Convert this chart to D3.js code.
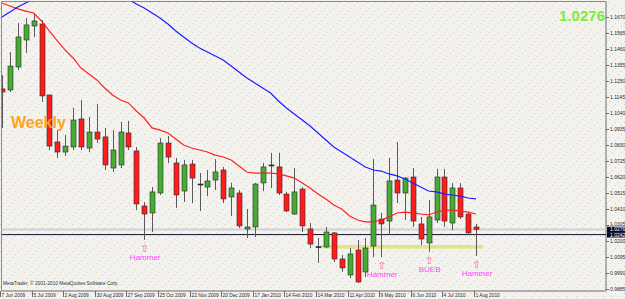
<!DOCTYPE html>
<html>
<head>
<meta charset="utf-8">
<script src="https://cdn.jsdelivr.net/npm/d3@7"></script>
<style>
  html, body { margin: 0; padding: 0; background: #f2f3ef; }
  svg { display: block; }
</style>
</head>
<body>
<script>
// weekly bars, one per sunday
const weeks = d3.timeWeek.range(new Date(2009, 5, 7), new Date(2010, 7, 2));

const open = [1.1198, 1.1191, 1.1342, 1.1519, 1.1611, 1.1624, 1.1158, 1.0850, 1.0784, 1.0817,
    1.1001, 1.0810, 1.0915, 1.0883, 1.0679, 1.0699, 1.0909, 1.0791, 1.0430, 1.0384,
    1.0515, 1.0843, 1.0712, 1.0528, 1.0705, 1.0574, 1.0554, 1.0600, 1.0666, 1.0489,
    1.0515, 1.0279, 1.0292, 1.0581, 1.0699, 1.0686, 1.0508, 1.0377, 1.0541, 1.0279,
    1.0163, 1.0161, 1.0253, 1.0082, 0.9977, 1.0141, 0.9997, 1.0167, 1.0344, 1.0331,
    1.0600, 1.0515, 1.0620, 1.0312, 1.0187, 1.0338, 1.0620, 1.0318, 1.0548, 1.0377, 1.0292];
const high = [1.1289, 1.1440, 1.1631, 1.1663, 1.1696, 1.1650, 1.1160, 1.0928, 1.0896, 1.1073,
    1.1125, 1.1014, 1.1099, 1.0942, 1.0928, 1.0981, 1.0988, 1.0817, 1.0456, 1.0554,
    1.0876, 1.0889, 1.0745, 1.0732, 1.0732, 1.0646, 1.0666, 1.0738, 1.0686, 1.0581,
    1.0535, 1.0410, 1.0581, 1.0712, 1.0778, 1.0778, 1.0522, 1.0679, 1.0554, 1.0318,
    1.0220, 1.0292, 1.0259, 1.0108, 1.0154, 1.0207, 1.0220, 1.0738, 1.0384, 1.0745,
    1.0850, 1.0620, 1.0679, 1.0358, 1.0469, 1.0673, 1.0673, 1.0581, 1.0581, 1.0390, 1.0312];
const low = [1.0942, 1.1178, 1.1322, 1.1434, 1.1539, 1.1112, 1.0797, 1.0745, 1.0758, 1.0797,
    1.0797, 1.0784, 1.0843, 1.0666, 1.0653, 1.0679, 1.0797, 1.0403, 1.0207, 1.0259,
    1.0502, 1.0712, 1.0417, 1.0456, 1.0449, 1.0397, 1.0495, 1.0535, 1.0449, 1.0364,
    1.0285, 1.0220, 1.0226, 1.0528, 1.0548, 1.0502, 1.0390, 1.0371, 1.0259, 1.0154,
    1.0056, 1.0154, 1.0062, 0.9997, 0.9957, 0.9924, 0.9964, 1.0095, 1.0095, 1.0239,
    1.0449, 1.0338, 1.0292, 1.0174, 1.0128, 1.0318, 1.0292, 1.0272, 1.0344, 1.0239, 1.0102];
const close = [1.1178, 1.1348, 1.1539, 1.1618, 1.1644, 1.1152, 1.0823, 1.0784, 1.0823, 1.0994,
    1.0817, 1.0915, 1.0869, 1.0699, 1.0797, 1.0915, 1.0817, 1.0443, 1.0377, 1.0522,
    1.0843, 1.0751, 1.0502, 1.0699, 1.0613, 1.0572, 1.0594, 1.0653, 1.0476, 1.0548,
    1.0299, 1.0292, 1.0574, 1.0686, 1.0697, 1.0515, 1.0397, 1.0522, 1.0299, 1.0180,
    1.0160, 1.0259, 1.0082, 1.0023, 1.0115, 0.9931, 1.0154, 1.0436, 1.0312, 1.0594,
    1.0515, 1.0613, 1.0331, 1.0213, 1.0358, 1.0620, 1.0331, 1.0548, 1.0358, 1.0253, 1.0276];

// moving averages as drawn on the chart
const maRed = [1.1762, 1.1742, 1.1723, 1.1709, 1.1696, 1.1644, 1.1578, 1.1513, 1.1453, 1.1401,
    1.1335, 1.1296, 1.1257, 1.1204, 1.1158, 1.1125, 1.1106, 1.1053, 1.1007, 1.0942,
    1.0928, 1.0909, 1.0869, 1.0830, 1.0810, 1.0797, 1.0784, 1.0764, 1.0751, 1.0732,
    1.0692, 1.0653, 1.0646, 1.0646, 1.0646, 1.0640, 1.0627, 1.0613, 1.0581, 1.0548,
    1.0508, 1.0476, 1.0436, 1.0410, 1.0364, 1.0338, 1.0325, 1.0325, 1.0338, 1.0358,
    1.0384, 1.0390, 1.0384, 1.0377, 1.0371, 1.0390, 1.0403, 1.0403, 1.0397, 1.0390, 1.0377];
const maBlue = [1.1670, 1.1703, 1.1736, 1.1762, 1.1788, 1.1814, 1.1834, 1.1854, 1.1867, 1.1873,
    1.1880, 1.1873, 1.1867, 1.1847, 1.1828, 1.1801, 1.1788, 1.1755, 1.1729, 1.1696,
    1.1663, 1.1624, 1.1578, 1.1539, 1.1499, 1.1467, 1.1440, 1.1414, 1.1388, 1.1348,
    1.1309, 1.1270, 1.1237, 1.1204, 1.1171, 1.1119, 1.1073, 1.1033, 1.0994, 1.0955,
    1.0909, 1.0863, 1.0817, 1.0784, 1.0751, 1.0718, 1.0686, 1.0666, 1.0659, 1.0640,
    1.0627, 1.0607, 1.0581, 1.0554, 1.0528, 1.0522, 1.0508, 1.0502, 1.0495, 1.0482, 1.0476];

const yTicks = [0.9885, 0.9990, 1.0095, 1.0200, 1.0305, 1.0410, 1.0515, 1.0620, 1.0725,
    1.0830, 1.0935, 1.1040, 1.1145, 1.1250, 1.1355, 1.1460, 1.1565, 1.1670];
const bid = 1.0276;
const hline = 1.0242;
const zone = [1.0150, 1.0174];
const zoneWeeks = [40, 60];

const notes = [
    { bar: 18, label: "Hammer" },
    { bar: 48, label: "Hammer" },
    { bar: 54, label: "BUEB" },
    { bar: 60, label: "Hammer" }
];

const width = 625, height = 299;
const plot = { left: 1.5, top: 1.5, right: 606, bottom: 291 };

const x = d3.scaleTime()
    .domain([weeks[0], weeks[weeks.length - 1]])
    .range([2, 476]);
const y = d3.scaleLinear()
    .domain([0.9885, 1.1670])
    .range([289, 17]);

const svg = d3.select("body").append("svg")
    .attr("width", width)
    .attr("height", height)
    .style("font-family", "Tahoma, 'Liberation Sans', Arial, sans-serif");

const defs = svg.append("defs");
// faint dotted backdrop
const pat = defs.append("pattern")
    .attr("id", "dots")
    .attr("width", 9).attr("height", 9)
    .attr("patternUnits", "userSpaceOnUse");
[[0, 8], [3, 5], [6, 2]].forEach(function (p) {
    pat.append("rect").attr("x", p[0]).attr("y", p[1])
        .attr("width", 1).attr("height", 1)
        .attr("fill", "#efc4b0");
});
defs.append("clipPath").attr("id", "clip")
    .append("rect")
    .attr("x", plot.left).attr("y", plot.top)
    .attr("width", plot.right - plot.left)
    .attr("height", plot.bottom - plot.top);

svg.append("rect").attr("width", width).attr("height", height).attr("fill", "#f2f3ef");
svg.append("rect").attr("width", width).attr("height", height).attr("fill", "url(#dots)");

// frame
svg.append("path")
    .attr("d", "M" + plot.left + "," + plot.bottom + "V" + plot.top + "H" + plot.right)
    .attr("fill", "none").attr("stroke", "#8c8c8c").attr("stroke-width", 1);
svg.append("path")
    .attr("d", "M" + plot.right + "," + plot.top + "V" + plot.bottom + "H" + plot.left)
    .attr("fill", "none").attr("stroke", "#6c6c6c").attr("stroke-width", 1);

const chart = svg.append("g").attr("clip-path", "url(#clip)");

// support zone
chart.append("rect")
    .attr("x", x(weeks[zoneWeeks[0]]) + 3)
    .attr("width", x(weeks[zoneWeeks[1]]) - x(weeks[zoneWeeks[0]]) + 4)
    .attr("y", y(zone[1]))
    .attr("height", y(zone[0]) - y(zone[1]))
    .attr("fill", "#e2e286");

// bid line and horizontal level
chart.append("line")
    .attr("x1", plot.left).attr("x2", plot.right)
    .attr("y1", y(bid)).attr("y2", y(bid))
    .attr("stroke", "#d2d2d2").attr("stroke-width", 2);
chart.append("line")
    .attr("x1", plot.left).attr("x2", plot.right)
    .attr("y1", y(hline)).attr("y2", y(hline))
    .attr("stroke", "#10102a").attr("stroke-width", 1);

// candles
const bars = chart.selectAll(".bar")
    .data(weeks)
    .enter()
    .append("g")
    .attr("class", "bar");

bars.append("line")
    .attr("x1", function (d) { return Math.round(x(d)) + 0.5; })
    .attr("x2", function (d) { return Math.round(x(d)) + 0.5; })
    .attr("y1", function (d, i) { return y(high[i]); })
    .attr("y2", function (d, i) { return y(low[i]); })
    .attr("stroke", "#5a5a5a")
    .attr("stroke-width", 1);

bars.append("rect")
    .attr("x", function (d) { return Math.round(x(d)) - 2; })
    .attr("width", 5)
    .attr("y", function (d, i) { return y(Math.max(open[i], close[i])); })
    .attr("height", function (d, i) { return Math.max(1, Math.abs(y(open[i]) - y(close[i]))); })
    .attr("fill", function (d, i) {
        if (Math.abs(close[i] - open[i]) < 0.0003) return "#1a1a50";
        return close[i] > open[i] ? "#46ad32" : "#ff1c1c";
    })
    .attr("stroke", "#2a2a2a")
    .attr("stroke-width", 0.6);

// moving averages
const line = d3.line()
    .x(function (d, i) { return x(weeks[i]); })
    .y(function (d) { return y(d); });

chart.append("path")
    .attr("d", line(maRed))
    .attr("fill", "none")
    .attr("stroke", "#ff2020")
    .attr("stroke-width", 1.2);
chart.append("path")
    .attr("d", line(maBlue))
    .attr("fill", "none")
    .attr("stroke", "#1c1cff")
    .attr("stroke-width", 1.2);

// annotations under the bars
const note = chart.selectAll(".note")
    .data(notes)
    .enter()
    .append("g")
    .attr("class", "note");
note.append("text")
    .attr("x", function (d) { return x(weeks[d.bar]) + 0.5; })
    .attr("y", function (d) { return y(low[d.bar]) + 12; })
    .attr("text-anchor", "middle")
    .attr("font-family", "'DejaVu Sans', sans-serif")
    .attr("font-size", 10)
    .attr("fill", "#ff5c8c")
    .text("\u21E7");
note.append("text")
    .attr("x", function (d) { return x(weeks[d.bar]) + 1; })
    .attr("y", function (d) { return y(low[d.bar]) + 20; })
    .attr("text-anchor", "middle")
    .attr("font-family", "Arial, 'Liberation Sans', sans-serif")
    .attr("font-size", 8)
    .attr("fill", "#ff44ff")
    .text(function (d) { return d.label; });

// labels
svg.append("text")
    .attr("x", 11).attr("y", 128)
    .attr("font-family", "Arial, 'Liberation Sans', sans-serif")
    .attr("font-weight", "bold")
    .attr("font-size", 16)
    .attr("fill", "#ffa31a")
    .text("Weekly");
svg.append("text")
    .attr("x", 605).attr("y", 21)
    .attr("text-anchor", "end")
    .attr("font-family", "Arial, 'Liberation Sans', sans-serif")
    .attr("font-weight", "bold")
    .attr("font-size", 15)
    .attr("fill", "#80ea3c")
    .text(d3.format(".4f")(bid));
svg.append("text")
    .attr("x", 3).attr("y", 285)
    .attr("font-size", 4.8)
    .attr("fill", "#333")
    .text("MetaTrader, \u00A9 2001-2010 MetaQuotes Software Corp.");

// price boxes stacked under each other, bid first
const boxH = 5.4;
const boxTop = y(bid) - boxH / 2;
const boxes = [{ v: bid, top: boxTop }, { v: hline, top: boxTop + boxH }];
const boxSpan = [boxTop, boxTop + 2 * boxH];

// price axis
const yAxis = svg.append("g");
yAxis.selectAll("line")
    .data(yTicks)
    .enter()
    .append("line")
    .attr("x1", plot.right).attr("x2", plot.right + 3)
    .attr("y1", function (d) { return Math.round(y(d)) + 0.5; })
    .attr("y2", function (d) { return Math.round(y(d)) + 0.5; })
    .attr("stroke", "#6c6c6c");
yAxis.selectAll("text")
    .data(yTicks)
    .enter()
    .append("text")
    .attr("x", 610)
    .attr("y", function (d) {
        // keep labels clear of the price boxes
        let c = y(d);
        if (c > boxSpan[0] - 2.6 && c < boxSpan[1] + 2.6) {
            c = c < (boxSpan[0] + boxSpan[1]) / 2 ? boxSpan[0] - 2.8 : boxSpan[1] + 2.8;
        }
        return c + 1.8;
    })
    .attr("font-size", 5)
    .attr("fill", "#2a2a3a")
    .text(function (d) { return d3.format(".4f")(d); });

boxes.forEach(function (b) {
    svg.append("rect")
        .attr("x", 607).attr("y", b.top)
        .attr("width", 18).attr("height", boxH)
        .attr("fill", "#0a0a1e");
    svg.append("text")
        .attr("x", 610).attr("y", b.top + boxH / 2 + 1.8)
        .attr("font-size", 5)
        .attr("fill", "#ffffff")
        .text(d3.format(".4f")(b.v));
});

// time axis
const dateTicks = weeks.filter(function (d, i) { return i % 4 === 0; });
const fmt = d3.timeFormat("%-d %b %Y");
const xAxis = svg.append("g");
xAxis.selectAll("line")
    .data(dateTicks)
    .enter()
    .append("line")
    .attr("x1", function (d) { return Math.round(x(d)) - 1.5; })
    .attr("x2", function (d) { return Math.round(x(d)) - 1.5; })
    .attr("y1", plot.bottom).attr("y2", plot.bottom + 6)
    .attr("stroke", "#6c6c6c");
xAxis.selectAll("text")
    .data(dateTicks)
    .enter()
    .append("text")
    .attr("x", function (d) { return Math.round(x(d)) - 0.5; })
    .attr("y", 297)
    .attr("font-size", 4.8)
    .attr("fill", "#2a2a3a")
    .text(function (d) { return fmt(d); });
</script>
</body>
</html>
